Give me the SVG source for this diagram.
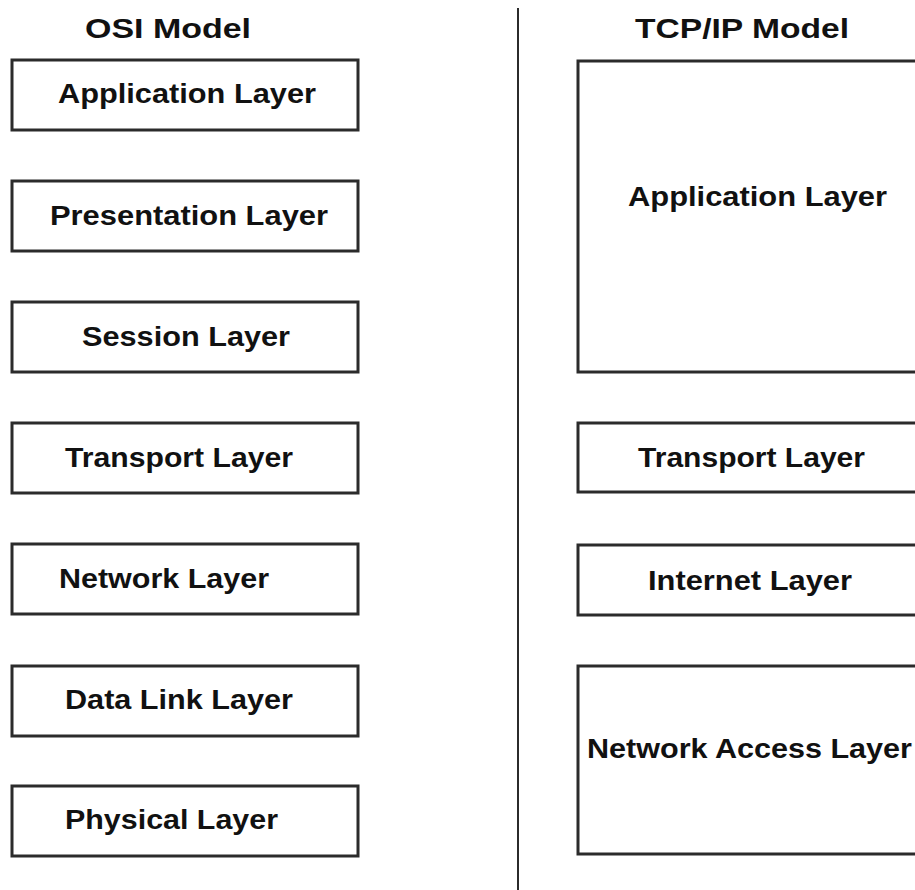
<svg xmlns="http://www.w3.org/2000/svg" width="915" height="890" viewBox="0 0 915 890">
<style>
.box{fill:#ffffff;stroke:#2b2b2b;stroke-width:3}
.t{font-family:"Liberation Sans",Arial,sans-serif;font-weight:bold;fill:#111;font-size:27px}
.h{font-family:"Liberation Sans",Arial,sans-serif;font-weight:bold;fill:#111;font-size:28px}
.div{stroke:#2b2b2b;stroke-width:2}
</style>
<rect width="915" height="890" fill="#ffffff"/>
<text class="h" x="85" y="38" textLength="166" lengthAdjust="spacingAndGlyphs">OSI Model</text>
<text class="h" x="635" y="38" textLength="214" lengthAdjust="spacingAndGlyphs">TCP/IP Model</text>
<g id="connectors">
<line class="div" x1="518" y1="8" x2="518" y2="890"/>
</g>
<g id="osi-application"><rect class="box" x="12" y="60" width="346" height="70"/><text class="t" x="58" y="103" textLength="258" lengthAdjust="spacingAndGlyphs">Application Layer</text></g>
<g id="osi-presentation"><rect class="box" x="12" y="181" width="346" height="70"/><text class="t" x="50" y="225" textLength="278" lengthAdjust="spacingAndGlyphs">Presentation Layer</text></g>
<g id="osi-session"><rect class="box" x="12" y="302" width="346" height="70"/><text class="t" x="82" y="346" textLength="208" lengthAdjust="spacingAndGlyphs">Session Layer</text></g>
<g id="osi-transport"><rect class="box" x="12" y="423" width="346" height="70"/><text class="t" x="65" y="467" textLength="228" lengthAdjust="spacingAndGlyphs">Transport Layer</text></g>
<g id="osi-network"><rect class="box" x="12" y="544" width="346" height="70"/><text class="t" x="59" y="588" textLength="210" lengthAdjust="spacingAndGlyphs">Network Layer</text></g>
<g id="osi-datalink"><rect class="box" x="12" y="666" width="346" height="70"/><text class="t" x="65" y="709" textLength="228" lengthAdjust="spacingAndGlyphs">Data Link Layer</text></g>
<g id="osi-physical"><rect class="box" x="12" y="786" width="346" height="70"/><text class="t" x="65" y="829" textLength="213" lengthAdjust="spacingAndGlyphs">Physical Layer</text></g>
<g id="tcp-application"><rect class="box" x="578" y="61" width="345" height="311"/><text class="t" x="628" y="206" textLength="259" lengthAdjust="spacingAndGlyphs">Application Layer</text></g>
<g id="tcp-transport"><rect class="box" x="578" y="423" width="345" height="69"/><text class="t" x="638" y="467" textLength="227" lengthAdjust="spacingAndGlyphs">Transport Layer</text></g>
<g id="tcp-internet"><rect class="box" x="578" y="545" width="345" height="70"/><text class="t" x="648" y="590" textLength="204" lengthAdjust="spacingAndGlyphs">Internet Layer</text></g>
<g id="tcp-networkaccess"><rect class="box" x="578" y="666" width="345" height="188"/><text class="t" x="587" y="758" textLength="325" lengthAdjust="spacingAndGlyphs">Network Access Layer</text></g>
</svg>
